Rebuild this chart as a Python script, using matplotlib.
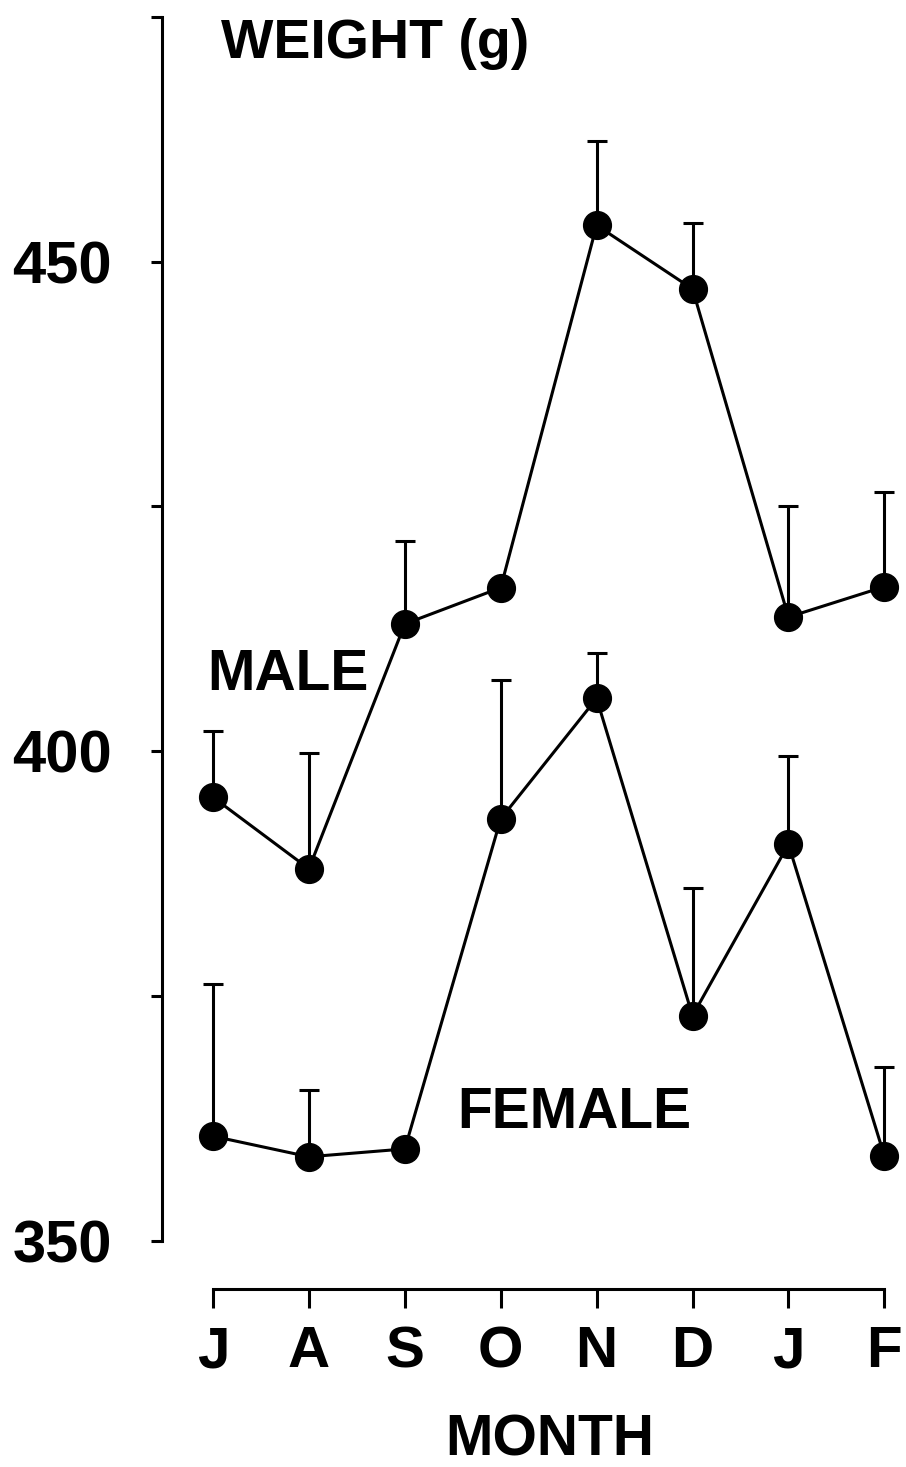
import matplotlib.pyplot as plt

plt.rcParams['font.family'] = ['Liberation Sans', 'DejaVu Sans']

months = ['J', 'A', 'S', 'O', 'N', 'D', 'J', 'F']
male = [395.3, 388.0, 413.0, 416.7, 453.7, 447.2, 413.7, 416.8]
male_err = [6.8, 11.8, 8.5, 0.0, 8.6, 6.7, 11.3, 9.7]
female = [360.7, 358.6, 359.4, 393.1, 405.4, 373.0, 390.5, 358.7]
female_err = [15.5, 6.8, 0.0, 14.2, 4.6, 13.0, 9.0, 9.1]
y_major = [350, 400, 450]
y_minor = [375, 425, 475]

x = list(range(len(months)))

fig = plt.figure(figsize=(9.06, 14.67), dpi=100)
ax = fig.add_axes([162 / 906, (1467 - 1289) / 1467, 1 - 162 / 906, 1289 / 1467])

for vals, errs in [(male, male_err), (female, female_err)]:
    ax.errorbar(x, vals, yerr=[[0] * len(errs), errs], fmt='none', ecolor='black',
                elinewidth=2.2, capsize=7, capthick=2.2, zorder=2)
    ax.plot(x, vals, color='black', lw=2.2, marker='o', markersize=20,
            markerfacecolor='black', markeredgecolor='black', zorder=3)

ax.set_xlim(-0.532, 7.226)
ax.set_ylim(345.1, 476.7)

for s in ['top', 'right']:
    ax.spines[s].set_visible(False)
ax.spines['left'].set_bounds(350, 475)
ax.spines['bottom'].set_bounds(0, 7)
ax.spines['left'].set_linewidth(2.2)
ax.spines['bottom'].set_linewidth(2.2)

ax.set_yticks(y_major)
ax.set_yticks(y_minor, minor=True)
ax.set_yticklabels([str(v) for v in y_major], fontsize=43, fontweight='bold')
ax.tick_params(axis='y', which='both', length=8, width=2.2, pad=28)
ax.set_xticks(x)
ax.set_xticklabels(months, fontsize=42, fontweight='bold')
ax.tick_params(axis='x', length=14, width=2.2, pad=12)

fig.text(221 / 906, 1 - 58 / 1467, 'WEIGHT (g)', fontsize=40, fontweight='bold')
fig.text(207 / 906, 1 - 690 / 1467, 'MALE', fontsize=41, fontweight='bold')
fig.text(457 / 906, 1 - 1128 / 1467, 'FEMALE', fontsize=41, fontweight='bold')
fig.text(550 / 906, 1 - 1456 / 1467, 'MONTH', fontsize=41, fontweight='bold',
         ha='center', va='baseline')

fig.savefig('out.png', dpi=100)
